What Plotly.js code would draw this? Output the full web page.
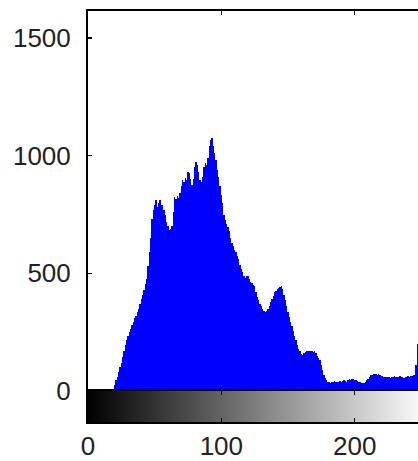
<!DOCTYPE html>
<html>
<head>
<meta charset="utf-8">
<script src="https://cdn.plot.ly/plotly-3.0.1.min.js"></script>
<style>
html,body{margin:0;padding:0;overflow:hidden;background:#fff;}
#chart{width:440px;height:461px;}
</style>
</head>
<body>
<div id="chart"></div>
<script>
// Gray levels (histogram bins)
const grayLevels = Array.from({length: 256}, (_, i) => i);

// Pixel counts per gray level
const counts = [
  0,0,0,0,0,0,0,0,0,0, 0,0,0,0,0,0,0,0,0,10,
  25,45,60,80,100,120,145,170,195,215,
  235,250,265,280,295,310,320,335,350,370,
  390,410,430,455,478,530,590,650,730,770,
  790,810,780,800,810,790,790,770,750,720,
  700,686,690,700,760,826,815,830,820,840,
  870,898,890,905,898,931,925,900,876,900,
  950,974,960,930,898,890,910,950,970,960,
  990,1040,1067,1075,1040,1010,980,940,910,870,
  835,800,750,725,710,699,680,650,631,615,
  601,590,575,560,535,520,505,490,480,490,
  487,475,465,460,450,445,420,400,385,370,
  360,350,340,336,340,347,360,378,390,405,
  419,425,432,438,440,445,435,410,385,360,
  335,315,295,275,255,235,215,195,180,168,
  158,155,160,165,169,172,170,168,170,165,
  168,160,150,140,130,110,90,70,55,45,
  40,38,36,38,40,42,40,38,40,42,
  40,44,46,42,40,45,50,48,52,50,
  48,45,42,40,38,35,34,36,40,45,
  52,60,66,70,72,74,72,70,72,68,
  64,62,60,58,59,60,58,56,58,60,
  62,60,58,60,62,60,58,56,58,60,
  62,60,62,64,66,70,110,200,230,180,
  140,110,100,90,80,60
];

const xTicks = [0, 100, 200];
const yTicks = [0, 500, 1000, 1500];

const tickFont = {family: 'Liberation Sans, Arial, Helvetica, sans-serif', size: 26, color: '#222'};

const histTrace = {
  type: 'bar',
  x: grayLevels,
  y: counts,
  width: 1,
  marker: {color: '#0000ff', line: {width: 0}},
  xaxis: 'x',
  yaxis: 'y',
  hoverinfo: 'skip'
};

const barTrace = {
  type: 'heatmap',
  x: grayLevels,
  y: [0],
  z: [grayLevels],
  colorscale: [[0, '#000000'], [1, '#ffffff']],
  zmin: 0, zmax: 255,
  showscale: false,
  xaxis: 'x2',
  yaxis: 'y2',
  hoverinfo: 'skip'
};

const splitFrac = 31 / 411;

const layout = {
  width: 440,
  height: 461,
  margin: {l: 88, r: 12, t: 11, b: 39},
  paper_bgcolor: '#ffffff',
  plot_bgcolor: '#ffffff',
  showlegend: false,
  bargap: 0,
  xaxis: {
    domain: [0, 1],
    range: [0, 255],
    anchor: 'y',
    showline: true, linecolor: '#000', linewidth: 2, mirror: 'ticks',
    ticks: 'inside', ticklen: 4, tickcolor: '#000', tickwidth: 1.5,
    tickvals: xTicks, showticklabels: false,
    showgrid: false, zeroline: false
  },
  yaxis: {
    domain: [splitFrac, 1],
    range: [0, 1615],
    anchor: 'x',
    showline: true, linecolor: '#000', linewidth: 2, mirror: 'ticks',
    ticks: 'inside', ticklen: 4, tickcolor: '#000', tickwidth: 1.5,
    tickvals: yTicks, ticktext: yTicks.map(String),
    tickfont: tickFont, ticklabelstandoff: 10,
    showgrid: false, zeroline: false
  },
  xaxis2: {
    domain: [0, 1],
    range: [0, 255],
    anchor: 'y2',
    showline: true, linecolor: '#000', linewidth: 2, mirror: 'ticks',
    ticks: 'inside', ticklen: 4, tickcolor: '#000', tickwidth: 1.5,
    tickvals: xTicks, ticktext: xTicks.map(String),
    tickfont: tickFont, ticklabelstandoff: 0,
    showgrid: false, zeroline: false
  },
  yaxis2: {
    domain: [0, splitFrac],
    range: [-0.5, 0.5],
    anchor: 'x2',
    showline: true, linecolor: '#000', linewidth: 2, mirror: true,
    ticks: '', showticklabels: false,
    showgrid: false, zeroline: false
  }
};

Plotly.newPlot('chart', [histTrace, barTrace], layout, {staticPlot: true, displayModeBar: false});
</script>
</body>
</html>
